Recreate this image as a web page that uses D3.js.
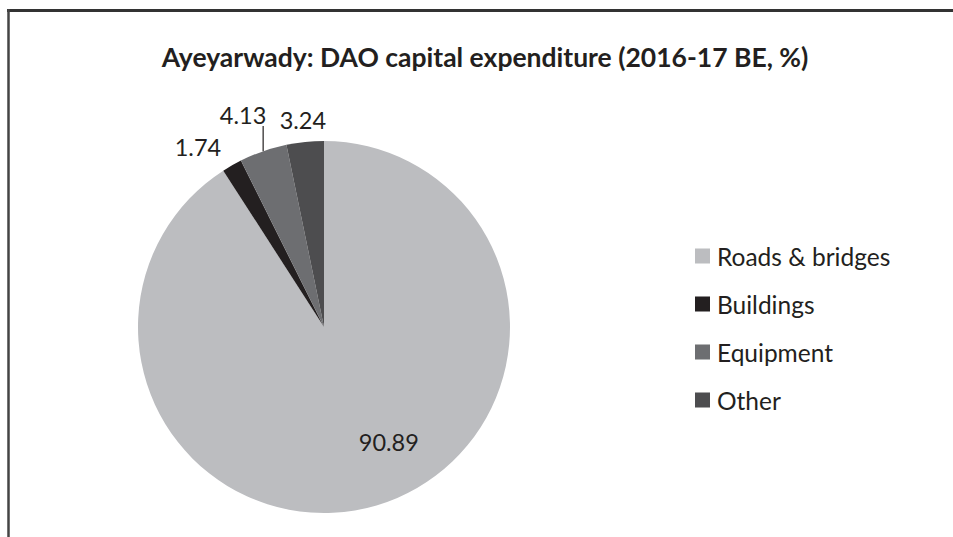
<!DOCTYPE html>
<html>
<head>
  <meta charset="utf-8">
  <title>Ayeyarwady DAO capital expenditure</title>
  <style>
  body { margin: 0; background: #fff; }
  text { font-family: Lato, "Open Sans", sans-serif; fill: #231f20; }
  </style>
</head>
<body>
  <div id="viz"></div>
  <script src="https://d3js.org/d3.v7.min.js"></script>
  <script>
    // data
    const categories = ["Roads & bridges", "Buildings", "Equipment", "Other"];
    const values = [90.89, 1.74, 4.13, 3.24];
    const colors = ["#bcbdc0", "#231f20", "#6d6e71", "#4d4d4f"];
    const title = "Ayeyarwady: DAO capital expenditure (2016-17 BE, %)";

    // label placement (polar, relative to slice middle): radius factor, angle shift (deg), leader line
    const labelLayout = [
      { r: 0.71, shift: -13, leader: false },
      { r: 1.18, shift: -5.4, leader: false },
      { r: 1.22, shift: -1.8, leader: true },
      { r: 1.12, shift: 0, leader: false }
    ];

    const width = 953, height = 537;
    const cx = 324, cy = 327, radius = 186;

    const svg = d3.select("#viz").append("svg")
      .attr("width", width)
      .attr("height", height);

    // chart frame (only top and left edges visible)
    svg.append("line")
      .attr("x1", 7).attr("x2", width).attr("y1", 10.5).attr("y2", 10.5)
      .attr("stroke", "#333").attr("stroke-width", 3);
    svg.append("line")
      .attr("x1", 8.5).attr("x2", 8.5).attr("y1", 9).attr("y2", height)
      .attr("stroke", "#444").attr("stroke-width", 2.5);

    svg.append("text")
      .attr("x", 485).attr("y", 67)
      .attr("text-anchor", "middle")
      .attr("font-size", 26.5)
      .attr("font-weight", "bold")
      .text(title);

    const data = categories.map((c, i) => ({ name: c, value: values[i], color: colors[i], layout: labelLayout[i] }));

    const pie = d3.pie().sort(null).value(d => d.value);
    const arc = d3.arc().innerRadius(0).outerRadius(radius);
    const arcs = pie(data);

    const g = svg.append("g").attr("transform", `translate(${cx},${cy})`);

    g.selectAll("path.slice")
      .data(arcs)
      .join("path")
      .attr("class", "slice")
      .attr("d", arc)
      .attr("fill", d => d.data.color);

    // labels
    const polar = (a, r) => [Math.sin(a) * r, -Math.cos(a) * r];
    arcs.forEach(d => {
      const mid = (d.startAngle + d.endAngle) / 2;
      const L = d.data.layout;
      const a = mid + L.shift * Math.PI / 180;
      const [x, y] = polar(a, L.r * radius);
      g.append("text")
        .attr("x", x).attr("y", y)
        .attr("text-anchor", "middle")
        .attr("dominant-baseline", "central")
        .attr("font-size", 23.5)
        .text(d3.format(".2f")(d.data.value));
      if (L.leader) {
        const [ex, ey] = polar(mid, radius);
        g.append("line")
          .attr("x1", ex).attr("x2", ex)
          .attr("y1", ey).attr("y2", y + 11)
          .attr("stroke", "#231f20").attr("stroke-width", 1.2);
      }
    });

    // legend
    const legend = svg.append("g").attr("transform", "translate(695,256)");
    const rows = legend.selectAll("g")
      .data(data)
      .join("g")
      .attr("transform", (d, i) => `translate(0,${i * 48})`);
    rows.append("rect")
      .attr("x", 0).attr("y", -7.5)
      .attr("width", 15).attr("height", 15)
      .attr("fill", d => d.color);
    rows.append("text")
      .attr("x", 22).attr("y", 0)
      .attr("dominant-baseline", "central")
      .attr("font-size", 24.5)
      .text(d => d.name);
  </script>
</body>
</html>
